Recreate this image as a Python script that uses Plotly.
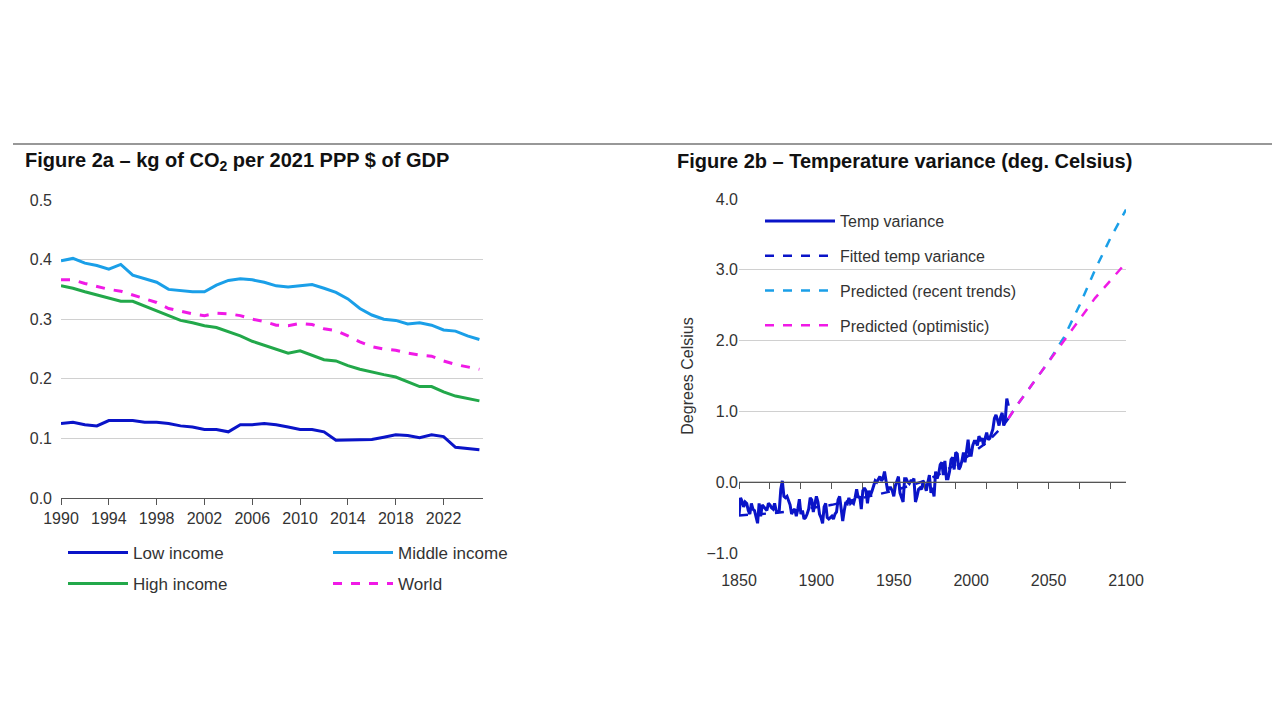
import plotly.graph_objects as go

# Figure 2a data
years_a = list(range(1990, 2026))
low_income = [.125, .127, .123, .121, .130, .130, .130, .127, .127, .125, .121, .119, .115, .115, .111, .123,
              .123, .125, .123, .119, .115, .115, .111, .097, .097, .097, .098, .102, .106, .105, .101, .106,
              .103, .085, .083, .081]
middle_income = [.398, .402, .394, .390, .384, .392, .374, .368, .362, .350, .348, .346, .346, .357, .365, .368,
                 .366, .362, .356, .354, .356, .358, .352, .345, .334, .318, .307, .300, .298, .292, .294, .290,
                 .282, .280, .272, .266]
high_income = [.356, .352, .346, .341, .336, .330, .330, .322, .313, .305, .298, .294, .289, .286, .279, .272,
               .263, .256, .249, .243, .247, .240, .232, .230, .222, .216, .211, .207, .203, .195, .187, .187,
               .178, .171, .167, .163]
world = [.366, .366, .360, .355, .350, .347, .341, .335, .328, .318, .313, .309, .306, .310, .309, .306,
         .300, .296, .290, .289, .293, .291, .284, .281, .272, .262, .254, .250, .248, .243, .240, .238,
         .230, .224, .220, .216]

# Figure 2b data
years_t = list(range(1850, 2025))
temp_var = [-0.47, -0.22, -0.27, -0.35, -0.28, -0.30, -0.40, -0.45, -0.30, -0.38,
            -0.40, -0.50, -0.58, -0.30, -0.48, -0.32, -0.35, -0.38, -0.40, -0.30,
            -0.32, -0.36, -0.38, -0.30, -0.40, -0.42, -0.40, -0.10, 0.02, -0.20,
            -0.22, -0.20, -0.25, -0.32, -0.45, -0.40, -0.38, -0.48, -0.38, -0.24,
            -0.45, -0.40, -0.52, -0.50, -0.45, -0.38, -0.22, -0.25, -0.42, -0.30,
            -0.20, -0.28, -0.45, -0.50, -0.58, -0.35, -0.30, -0.50, -0.52, -0.50,
            -0.48, -0.52, -0.45, -0.42, -0.25, -0.20, -0.38, -0.55, -0.40, -0.28,
            -0.30, -0.22, -0.30, -0.28, -0.30, -0.22, -0.10, -0.22, -0.20, -0.38,
            -0.12, -0.08, -0.12, -0.30, -0.12, -0.18, -0.12, -0.04, 0.02, 0.00,
            0.05, 0.08, 0.02, 0.05, 0.15, 0.02, -0.12, -0.08, -0.08, -0.12,
            -0.20, -0.05, 0.02, 0.08, -0.15, -0.22, -0.28, 0.05, 0.05, 0.00,
            -0.02, 0.02, 0.02, 0.05, -0.28, -0.20, -0.10, -0.08, -0.10, 0.02,
            -0.05, -0.12, 0.00, 0.10, -0.15, -0.08, -0.20, 0.15, 0.05, 0.12,
            0.25, 0.28, 0.10, 0.30, 0.05, 0.05, 0.15, 0.32, 0.35, 0.18,
            0.42, 0.40, 0.18, 0.22, 0.30, 0.42, 0.28, 0.45, 0.60, 0.38,
            0.38, 0.52, 0.58, 0.58, 0.52, 0.65, 0.60, 0.62, 0.52, 0.62,
            0.70, 0.60, 0.62, 0.68, 0.75, 0.90, 0.95, 0.88, 0.80, 0.92,
            0.98, 0.80, 0.88, 1.18, 1.08]
years_fit = [1850, 1860, 1870, 1880, 1890, 1900, 1910, 1920, 1930, 1940, 1950, 1960, 1970, 1980, 1990,
             2000, 2010, 2020, 2024]
fitted = [-0.47, -0.46, -0.44, -0.42, -0.39, -0.36, -0.32, -0.27, -0.22, -0.17, -0.12, -0.05, 0.02, 0.12,
          0.25, 0.40, 0.56, 0.78, 0.90]
years_pred = [2024, 2030, 2040, 2050, 2060, 2070, 2080, 2090, 2100]
pred_recent = [0.90, 1.10, 1.40, 1.70, 2.05, 2.50, 3.00, 3.45, 3.85]
pred_optimistic = [0.90, 1.10, 1.40, 1.70, 2.00, 2.30, 2.60, 2.85, 3.10]

DARK = '#0a14c8'
LIGHT = '#1a9fe8'
GREEN = '#22a84a'
PINK = '#f01ae6'
FONT = 'Liberation Sans'
W, H = 1280, 720

fig = go.Figure()

for name, ys, col, dash, leg in [('Low income', low_income, DARK, 'solid', 'legend'),
                                 ('Middle income', middle_income, LIGHT, 'solid', 'legend'),
                                 ('High income', high_income, GREEN, 'solid', 'legend3'),
                                 ('World', world, PINK, 'dash', 'legend3')]:
    fig.add_trace(go.Scatter(x=years_a, y=ys, name=name, mode='lines',
                             line=dict(color=col, width=3, dash=dash),
                             xaxis='x', yaxis='y', legend=leg))

for i, (name, xs, ys, col, dash) in enumerate([
        ('Temp variance', years_t, temp_var, DARK, 'solid'),
        ('Fitted temp variance', years_fit, fitted, DARK, 'dash'),
        ('Predicted (recent trends)', years_pred, pred_recent, LIGHT, 'dash'),
        ('Predicted (optimistic)', years_pred, pred_optimistic, PINK, 'dash')]):
    fig.add_trace(go.Scatter(x=xs, y=ys, name=name, mode='lines',
                             line=dict(color=col, width=3 if dash == 'solid' else 2.5, dash=dash),
                             xaxis='x2', yaxis='y2', legend='legend2', legendgroup=str(i)))

# invisible-ish trace so the zero-line tick axis is drawn
fig.add_trace(go.Scatter(x=[1850, 2100], y=[0, 0], mode='lines', line=dict(color='#555', width=1),
                         xaxis='x3', yaxis='y2', showlegend=False, hoverinfo='skip'))

tickfont = dict(family=FONT, size=16, color='#333')
legfont = dict(family=FONT, size=17, color='#333')
grid = '#d0d0d0'

fig.update_layout(
    width=W, height=H,
    margin=dict(l=0, r=0, t=0, b=0, autoexpand=False),
    paper_bgcolor='white', plot_bgcolor='white',
    font=dict(family=FONT, color='#222'),
    xaxis=dict(domain=[53 / W, 475 / W], range=[1990, 2025.3], tickvals=list(range(1990, 2023, 4)),
               ticks='outside', ticklen=6, tickcolor='#555', showline=True, linecolor='#555',
               showgrid=False, tickfont=tickfont, anchor='y', automargin=False),
    yaxis=dict(domain=[1 - 490 / H, 1 - 192 / H], range=[0, 0.5], dtick=0.1, tickformat='.1f',
               gridcolor=grid, zeroline=False, tickfont=tickfont, anchor='x', ticklabelstandoff=8,
               automargin=False),
    xaxis2=dict(domain=[731 / W, 1118 / W], range=[1850, 2100], dtick=50, showgrid=False,
                tickfont=tickfont, anchor='y2', ticks='', ticklabelstandoff=16, automargin=False),
    xaxis3=dict(overlaying='x2', range=[1850, 2100], dtick=20, tick0=1850, anchor='free',
                position=1 - 474 / H, showticklabels=False, ticks='outside', ticklen=6,
                tickcolor='#555', showline=True, linecolor='#555', showgrid=False, automargin=False),
    yaxis2=dict(domain=[1 - 545 / H, 1 - 191 / H], range=[-1, 4], dtick=1, tickformat='.1f',
                gridcolor=grid, zeroline=False, tickfont=tickfont, anchor='x2', automargin=False,
                title=dict(text='Degrees Celsius', font=dict(family=FONT, size=16, color='#333'),
                           standoff=8)),
    legend=dict(orientation='h', x=55 / W, y=1 - 527 / H, yanchor='top', xanchor='left',
                entrywidth=190, entrywidthmode='pixels', font=legfont, itemwidth=60),
    legend3=dict(orientation='h', x=55 / W, y=1 - 558 / H, yanchor='top', xanchor='left',
                 entrywidth=190, entrywidthmode='pixels', font=legfont, itemwidth=60),
    legend2=dict(x=752 / W, y=1 - 196 / H, yanchor='top', xanchor='left', tracegroupgap=11,
                 font=dict(family=FONT, size=16, color='#333'), itemwidth=70, bgcolor='rgba(0,0,0,0)'),
    annotations=[
        dict(text='<b>Figure 2a – kg of CO<sub>2</sub> per 2021 PPP $ of GDP</b>', x=15 / W,
             y=1 - 153 / H, xref='paper', yref='paper', xanchor='left', yanchor='middle',
             showarrow=False, font=dict(family=FONT, size=20, color='#111')),
        dict(text='<b>Figure 2b – Temperature variance (deg. Celsius)</b>', x=667 / W,
             y=1 - 153 / H, xref='paper', yref='paper', xanchor='left', yanchor='middle',
             showarrow=False, font=dict(family=FONT, size=20, color='#111')),
    ],
    shapes=[dict(type='line', xref='paper', yref='paper', x0=5 / W, x1=1270 / W, y0=1 - 136 / H,
                 y1=1 - 136 / H, line=dict(color='#333', width=1.2))],
)

fig.write_html("out.html")
